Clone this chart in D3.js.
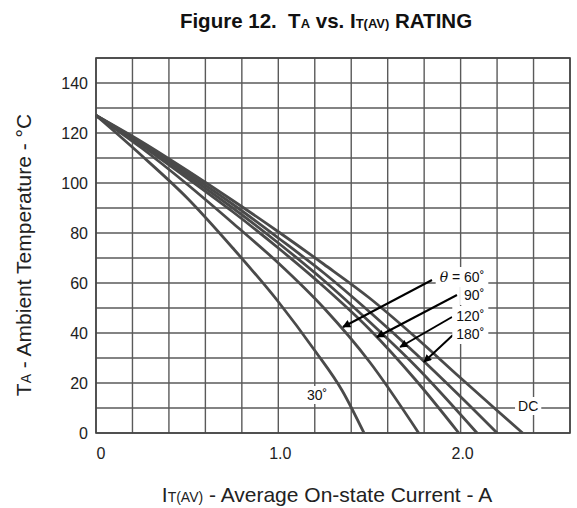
<!DOCTYPE html>
<html><head><meta charset="utf-8">
<script src="https://cdn.jsdelivr.net/npm/d3@7"></script>
<style>
html,body{margin:0;padding:0;background:#fff;}
svg{display:block;font-family:"Liberation Sans",Arial,sans-serif;}
text{white-space:pre;}
</style></head><body>
<svg id="c" width="577" height="508"></svg>
<script>
// ---- data ----
const xTicks = [0, 1.0, 2.0];
const xTickLabels = ["0", "1.0", "2.0"];
const yTicks = [0, 20, 40, 60, 80, 100, 120, 140];
const seriesNames = ["30°", "60°", "90°", "120°", "180°", "DC"];
const curve30  = [[0,127],[0.25,111],[0.5,94],[0.75,74],[1.0,52.5],[1.2,33],[1.35,17],[1.47,0]];
const curve60  = [[0,127],[0.25,114],[0.5,99.5],[0.75,84],[1.0,68],[1.25,50],[1.5,28.5],[1.77,0]];
const curve90  = [[0,127],[0.25,115],[0.5,102],[0.75,88.5],[1.0,74],[1.25,58.5],[1.5,41.5],[1.75,21.5],[1.99,0]];
const curve120 = [[0,127],[0.25,115.5],[0.5,103],[0.75,90],[1.0,76],[1.25,61],[1.5,44.5],[1.75,27],[2.09,0]];
const curve180 = [[0,127],[0.25,116],[0.5,104],[0.75,91.5],[1.0,78],[1.25,64],[1.5,48.5],[1.75,32],[2.0,14.5],[2.2,0]];
const curveDC  = [[0,127],[0.25,116.5],[0.5,105],[0.75,93],[1.0,80.5],[1.25,67.5],[1.5,54],[1.75,38.5],[2.0,22],[2.2,9],[2.34,0]];
// annotation labels (data units)
const arrowLabels = ["60˚", "90˚", "120˚", "180˚"];
const labelPos   = [[2.13,60.4],[2.13,53.2],[2.13,44.8],[2.13,37.6]];
const arrowStart = [[1.843,61.2],[1.98,55.2],[1.953,46.4],[1.958,39.2]];
const arrowTip   = [[1.355,42.4],[1.541,38.4],[1.668,34.4],[1.799,28.4]];
const label30Pos = [1.157, 13.2];
const labelDCPos = [2.315, 8.8];

// ---- layout ----
const svg = d3.select("#c");
const x = d3.scaleLinear().domain([0, 2.6]).range([96, 570]);
const y = d3.scaleLinear().domain([0, 150]).range([433, 58]);

// grid
const g = svg.append("g");
g.selectAll("line.v").data(d3.range(0, 2.61, 0.2)).join("line")
  .attr("x1", d => x(d)).attr("x2", d => x(d)).attr("y1", y(0)).attr("y2", y(150))
  .attr("stroke", "#5a5a5a").attr("stroke-width", 1.4);
g.selectAll("line.h").data(d3.range(0, 151, 10)).join("line")
  .attr("y1", d => y(d)).attr("y2", d => y(d)).attr("x1", x(0)).attr("x2", x(2.6))
  .attr("stroke", "#5a5a5a").attr("stroke-width", 1.4);
svg.append("rect").attr("x", x(0)).attr("y", y(150)).attr("width", x(2.6) - x(0)).attr("height", y(0) - y(150))
  .attr("fill", "none").attr("stroke", "#444").attr("stroke-width", 1.6);

// curves
const line = d3.line().x(d => x(d[0])).y(d => y(d[1])).curve(d3.curveMonotoneX);
const curves = [curve30, curve60, curve90, curve120, curve180, curveDC];
svg.append("g").selectAll("path").data(curves).join("path")
  .attr("d", line).attr("fill", "none").attr("stroke", "#4a4a4a").attr("stroke-width", 2.8);

// axes tick labels
svg.append("g").selectAll("text").data(yTicks).join("text")
  .attr("x", 88).attr("y", d => y(d) + 5.5).attr("text-anchor", "end")
  .attr("font-size", 16).attr("fill", "#222").text(d => d);
svg.append("g").selectAll("text").data(xTicks).join("text")
  .attr("x", (d, i) => x(d) + (i === 0 ? 5 : 2)).attr("y", 459).attr("text-anchor", "middle")
  .attr("font-size", 16).attr("fill", "#222").text((d, i) => xTickLabels[i]);

// titles
const t = svg.append("text").attr("x", 326).attr("y", 28).attr("text-anchor", "middle")
  .attr("font-size", 20.5).attr("font-weight", "bold").attr("fill", "#111");
t.append("tspan").text("Figure 12.  T");
t.append("tspan").attr("font-size", 13).text("A");
t.append("tspan").text(" vs. I");
t.append("tspan").attr("font-size", 13).text("T(AV)");
t.append("tspan").text(" RATING");

const yt = svg.append("text").attr("transform", "translate(31,255) rotate(-90)").attr("text-anchor", "middle")
  .attr("font-size", 21).attr("fill", "#222");
yt.append("tspan").text("T");
yt.append("tspan").attr("font-size", 14).text("A");
yt.append("tspan").text(" - Ambient Temperature - °C");

const xt = svg.append("text").attr("x", 327).attr("y", 502).attr("text-anchor", "middle")
  .attr("font-size", 21).attr("fill", "#222");
xt.append("tspan").text("I");
xt.append("tspan").attr("font-size", 14).text("T(AV)");
xt.append("tspan").text(" - Average On-state Current - A");

// arrows
const defs = svg.append("defs");
defs.append("marker").attr("id", "ah").attr("viewBox", "0 0 10 10").attr("refX", 9).attr("refY", 5)
  .attr("markerWidth", 5).attr("markerHeight", 4).attr("orient", "auto").attr("markerUnits", "strokeWidth")
  .append("path").attr("d", "M0,0 L10,5 L0,10 Z").attr("fill", "#000");

svg.append("g").selectAll("line").data(arrowStart).join("line")
  .attr("x1", d => x(d[0])).attr("y1", d => y(d[1]))
  .attr("x2", (d, i) => x(arrowTip[i][0])).attr("y2", (d, i) => y(arrowTip[i][1]))
  .attr("stroke", "#000").attr("stroke-width", 2).attr("marker-end", "url(#ah)");

// labels with white background
const bgLayer = svg.append("g");
const ann = svg.append("g");
function labelWithBg(txtFn, px, py, anchor, padX, padY) {
  const tx = ann.append("text").attr("x", px).attr("y", py).attr("text-anchor", anchor)
    .attr("font-size", 14).attr("fill", "#111");
  txtFn(tx);
  const bb = tx.node().getBBox();
  bgLayer.append("rect").attr("x", bb.x - padX).attr("y", bb.y - padY)
    .attr("width", bb.width + 2 * padX).attr("height", bb.height + 2 * padY).attr("fill", "#fff");
}
arrowLabels.forEach((s, i) => {
  labelWithBg(tx => {
    if (i === 0) {
      tx.append("tspan").attr("font-style", "italic").attr("font-family", "DejaVu Serif, serif").text("θ");
      tx.append("tspan").text(" = ");
    }
    tx.append("tspan").text(s);
  }, x(labelPos[i][0]), y(labelPos[i][1]), "end", 4, 2);
});
labelWithBg(tx => tx.text(seriesNames[0].replace("°", "˚")), x(label30Pos[0]), y(label30Pos[1]), "start", 3, 1);
labelWithBg(tx => tx.text(seriesNames[5]), x(labelDCPos[0]), y(labelDCPos[1]), "start", 3, 1);
</script>
</body></html>
